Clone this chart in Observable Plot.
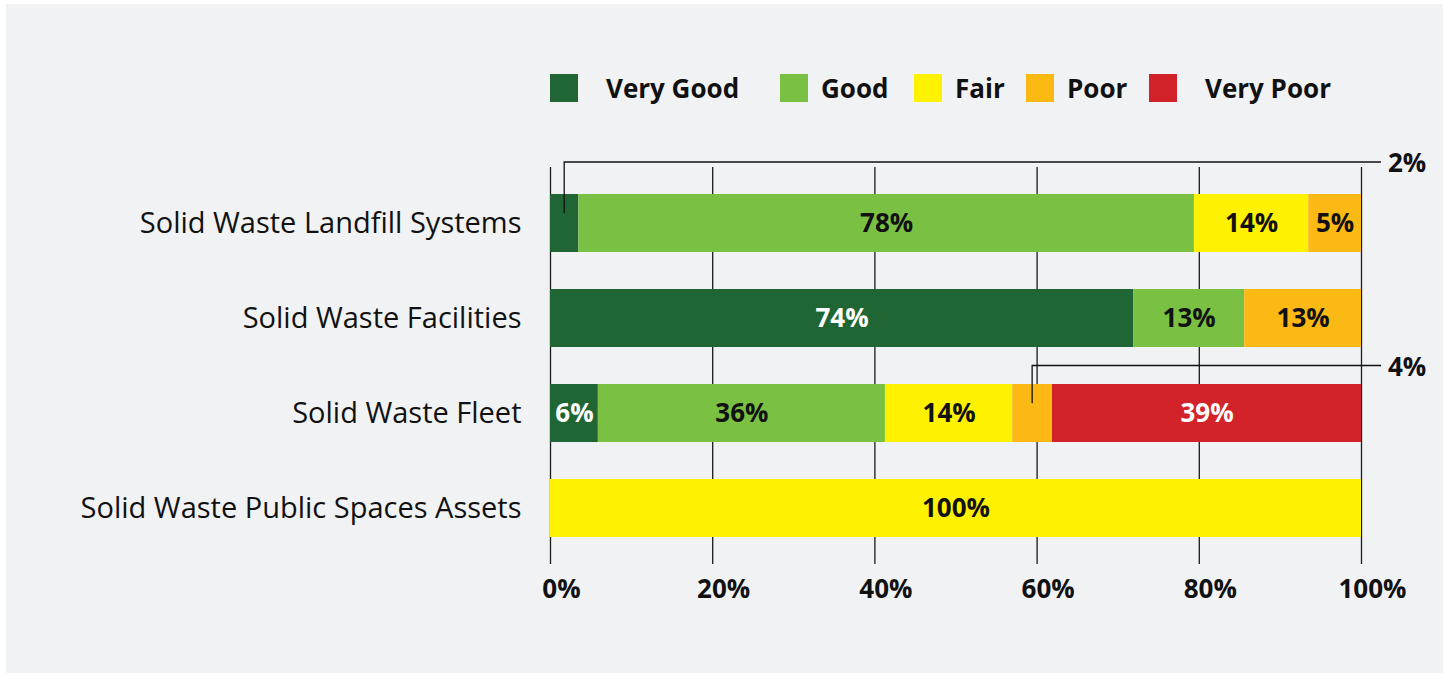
<!DOCTYPE html>
<html>
<head>
<meta charset="utf-8">
<script src="https://cdn.jsdelivr.net/npm/d3@7"></script>
<script src="https://cdn.jsdelivr.net/npm/@observablehq/plot@0.6"></script>
<style>
  html, body { margin: 0; padding: 0; background: #ffffff; }
  #panel { position: absolute; left: 6px; top: 4px; width: 1437px; height: 669px; background: #f1f2f4; font-family: "Open Sans", sans-serif; overflow: hidden; }
  .sw { position: absolute; top: 70px; width: 28px; height: 28px; }
  .lt { position: absolute; top: 70px; font-size: 26px; font-weight: 700; line-height: 28px; color: #111; white-space: nowrap; }
  #chart { position: absolute; left: 0; top: 0; }
</style>
</head>
<body>
<div id="panel">
  <div id="legend"></div>
  <div id="chart"></div>
</div>
<script>
// ---- data ----
const categories = [
  "Solid Waste Landfill Systems",
  "Solid Waste Facilities",
  "Solid Waste Fleet",
  "Solid Waste Public Spaces Assets"
];
const conditions = ["Very Good", "Good", "Fair", "Poor", "Very Poor"];

// bar lengths (% of asset value)
const veryGood = [3.5, 71.9, 5.9, 0];
const good     = [75.9, 13.7, 35.4, 0];
const fair     = [14.1, 0, 15.7, 100];
const poor     = [6.5, 14.4, 4.9, 0];
const veryPoor = [0, 0, 38.1, 0];

// printed percentage labels
const veryGoodPct = [2, 74, 6, null];
const goodPct     = [78, 13, 36, null];
const fairPct     = [14, null, 14, 100];
const poorPct     = [5, 13, 4, null];
const veryPoorPct = [null, null, 39, null];

// segments labelled with a leader line instead of inside the bar
const calloutCategories = ["Solid Waste Landfill Systems", "Solid Waste Fleet"];
const calloutConditions = ["Very Good", "Poor"];

const xTicks = [0, 20, 40, 60, 80, 100];

// ---- styles ----
const colors = ["#1f6634", "#7ac143", "#fff200", "#fdb913", "#d2232a"];
const whiteText = new Set(["Very Good", "Very Poor"]);

const series = [veryGood, good, fair, poor, veryPoor];
const pcts = [veryGoodPct, goodPct, fairPct, poorPct, veryPoorPct];

const rows = [];
categories.forEach((c, i) => {
  conditions.forEach((k, j) => {
    const isCallout = calloutCategories.some((cc, m) => cc === c && calloutConditions[m] === k);
    rows.push({
      category: c,
      condition: k,
      value: series[j][i],
      label: (pcts[j][i] == null || isCallout) ? "" : pcts[j][i] + "%"
    });
  });
});

// ---- legend (HTML) ----
const legendSwatchLeft = [544, 774, 908, 1020, 1143];
const legendTextLeft = [600, 815, 949, 1061, 1199];
const legend = document.getElementById("legend");
conditions.forEach((k, j) => {
  const s = document.createElement("div");
  s.className = "sw";
  s.style.left = legendSwatchLeft[j] + "px";
  s.style.background = colors[j];
  legend.appendChild(s);
  const t = document.createElement("div");
  t.className = "lt";
  t.style.left = legendTextLeft[j] + "px";
  t.textContent = k;
  legend.appendChild(t);
});

// ---- chart ----
const W = 1437, H = 640, mL = 544, mR = 82, mT = 163, mB = 80;

const chart = Plot.plot({
  width: W,
  height: H,
  marginLeft: mL,
  marginRight: mR,
  marginTop: mT,
  marginBottom: mB,
  style: { background: "transparent", fontFamily: "'Open Sans', sans-serif", color: "#111" },
  x: { domain: [0, 100] },
  y: { domain: categories, paddingInner: 0.39, paddingOuter: 0.284 },
  color: { domain: conditions, range: colors },
  marks: [
    Plot.ruleX(xTicks, { stroke: "#1a1a1a", strokeWidth: 1.3 }),
    Plot.barX(rows, Plot.stackX({ x: "value", y: "category", fill: "condition" })),
    Plot.text(rows, Plot.stackX({
      x: "value", y: "category",
      text: d => whiteText.has(d.condition) ? d.label : "",
      fill: "white", fontSize: 26, fontWeight: "bold"
    })),
    Plot.text(rows, Plot.stackX({
      x: "value", y: "category",
      text: d => whiteText.has(d.condition) ? "" : d.label,
      fill: "#111", fontSize: 26, fontWeight: "bold"
    })),
    Plot.axisX({
      ticks: xTicks, tickFormat: d => d + "%", tickSize: 0, tickPadding: 15, dx: 11,
      fontSize: 26, fontWeight: "bold", fill: "#111", label: null
    }),
    Plot.axisY({
      tickSize: 0, tickPadding: 29, fontSize: 29, fill: "#111", label: null
    })
  ]
});
document.getElementById("chart").appendChild(chart);

// ---- leader-line callouts using the chart's scales ----
const xs = chart.scale("x"), ys = chart.scale("y");
const svg = d3.select(chart);
calloutCategories.forEach((c, m) => {
  const ci = categories.indexOf(c);
  const kj = conditions.indexOf(calloutConditions[m]);
  let start = 0;
  for (let j = 0; j < kj; j++) start += series[j][ci];
  const mid = start + series[kj][ci] / 2;
  const x = xs.apply(mid);
  const bandTop = ys.apply(c);
  const bw = ys.bandwidth, step = ys.step;
  const yIn = bandTop + bw * 0.33;
  const yElbow = ci === 0 ? mT - 5 : bandTop - (step - bw) / 2;
  const xEnd = xs.apply(100) + 20;
  svg.append("path")
    .attr("d", `M${x},${yIn}V${yElbow}H${xEnd}`)
    .attr("fill", "none")
    .attr("stroke", "#111")
    .attr("stroke-width", 1.3);
  svg.append("text")
    .attr("x", xEnd + 7)
    .attr("y", yElbow + 10)
    .attr("text-anchor", "start")
    .attr("font-size", 26)
    .attr("font-weight", "bold")
    .attr("fill", "#111")
    .text(pcts[kj][ci] + "%");
});
</script>
</body>
</html>
